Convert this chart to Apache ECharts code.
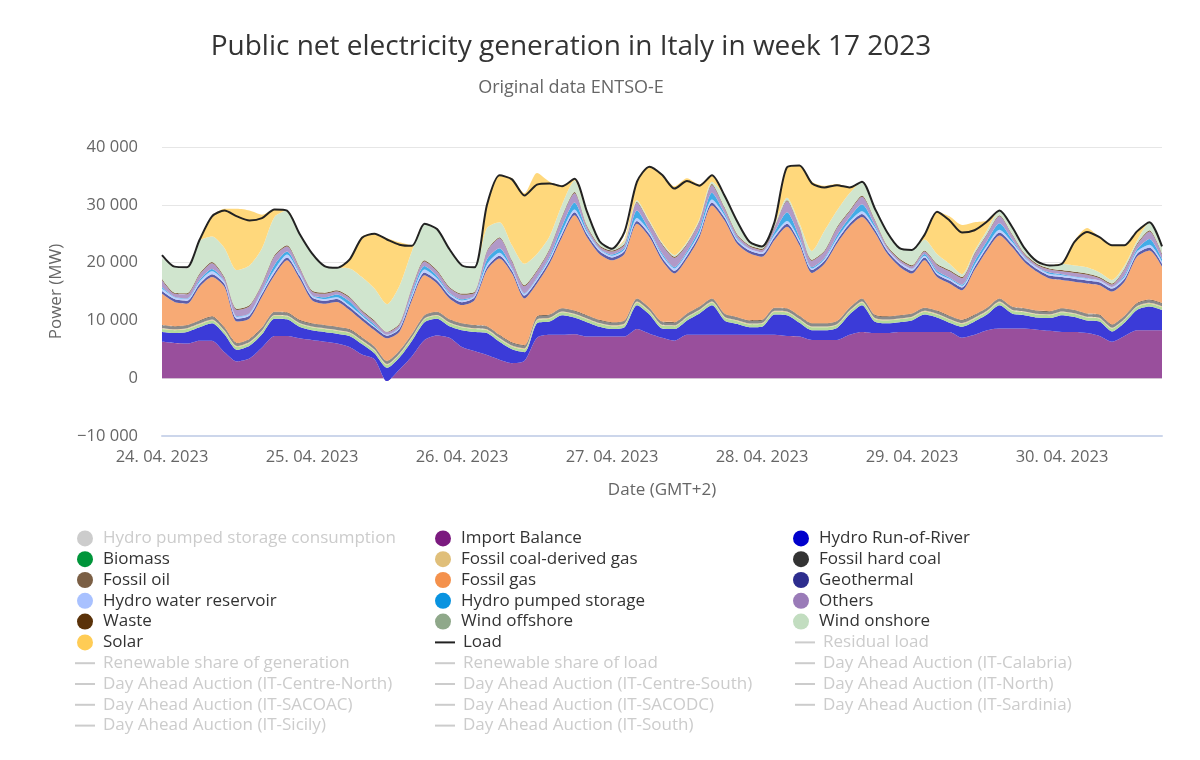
<!DOCTYPE html>
<html>
<head>
<meta charset="utf-8">
<title>Public net electricity generation in Italy in week 17 2023</title>
<script src="https://cdn.jsdelivr.net/npm/echarts@6/dist/echarts.min.js"></script>
<style>
  html, body { margin: 0; padding: 0; background: #fff; }
  #chart { width: 1200px; height: 760px; }
</style>
</head>
<body>
<div id="chart"></div>
<script>
// hours since 24.04.2023 00:00 (GMT+2), one sample every 2 hours
const hours = [0,2,4,6,8,10,12,14,16,18,20,22,24,26,28,30,32,34,36,38,40,42,44,46,48,50,52,54,56,58,60,62,64,66,68,70,72,74,76,78,80,82,84,86,88,90,92,94,96,98,100,102,104,106,108,110,112,114,116,118,120,122,124,126,128,130,132,134,136,138,140,142,144,146,148,150,152,154,156,158,160];

// generation in MW
const importBalance = [6300,6100,6000,6500,6500,4500,2900,3400,5300,7300,7300,6900, 6600,6300,6000,5400,4100,3300,-500,1500,3800,6600,7400,7000, 5400,4700,4000,3200,2600,3000,7000,7500,7500,7600, 7200,7200,7200,7200,8500,7700,7000,6500,7500,7500,7500,7500,7500,7500, 7500,7500,7300,7200,6600,6600,6600,7500,8000,7800,7800,8000, 8000,8000,8000,8000,7000,7500,8300,8600,8600,8600,8400,8200, 8000,8000,7800,7300,6300,7300,8300,8300,8300];
const runOfRiver = [1700,1700,2000,2300,3000,3100,2000,2200,2300,3000,2900,2000, 1700,1700,1700,1900,1800,1000,2300,2100,2700,3100,2900,2000, 2900,3300,3800,3100,2400,1500,2500,2300,3400,2900, 2500,1700,1300,1600,4100,3300,1600,2000,2500,3700,5100,2500,1900,1300, 1400,3500,3600,2400,1700,1700,2100,3500,4600,2000,1700,1700, 2000,3000,2500,1600,1900,2300,2700,4000,2600,2300,2100,2200, 2900,2600,2200,2500,1800,2300,3500,4100,3500];
const biomass = [500,500,500,500,500,500,500,500,500,500,500,500, 500,500,500,500,500,500,500,500,500,500,500,500, 500,500,500,500,500,500,500,500,500,500, 500,500,500,500,500,500,500,500,500,500,500,500,500,500, 500,500,500,500,500,500,500,500,500,500,500,500, 500,500,500,500,500,500,500,500,500,500,500,500, 500,500,500,500,500,500,500,500,500];
const coalGas = [150,150,150,150,150,150,150,150,150,150,150,150, 150,150,150,150,150,150,150,150,150,150,150,150, 150,150,150,150,150,150,150,150,150,150, 150,150,150,150,150,150,150,150,150,150,150,150,150,150, 150,150,150,150,150,150,150,150,150,150,150,150, 150,150,150,150,150,150,150,150,150,150,150,150, 150,150,150,150,150,150,150,150,150];
const hardCoal = [450,450,450,450,450,450,450,450,450,450,450,450, 450,450,450,450,450,450,450,450,450,450,450,450, 450,450,450,450,450,450,450,450,450,450, 450,450,450,450,450,450,450,450,450,450,450,450,450,450, 450,450,450,450,450,450,450,450,450,450,450,450, 450,450,450,450,450,450,450,450,450,450,450,450, 450,450,450,450,450,450,450,450,450];
const fossilOil = [100,100,100,100,100,100,100,100,100,100,100,100, 100,100,100,100,100,100,100,100,100,100,100,100, 100,100,100,100,100,100,100,100,100,100, 100,100,100,100,100,100,100,100,100,100,100,100,100,100, 100,100,100,100,100,100,100,100,100,100,100,100, 100,100,100,100,100,100,100,100,100,100,100,100, 100,100,100,100,100,100,100,100,100];
const fossilGas = [5400,4200,3700,5800,6800,7000,3700,3550,5300,6300,9000,7150, 4000,3700,4300,3300,2900,2800,3900,3250,5800,6900,4900,3600, 3150,4300,9700,13200,11900,8100,5700,8800,12300,16500, 13500,11400,10700,11500,12900,12200,10600,8400,9500,12000,16100,16100,12700,11600, 10900,11700,14100,12200,8700,10300,13400,14000,14100,14300,10900,8400, 6900,8200,5800,5600,5100,7700,9900,10900,10300,8000,6700,5650, 4900,4900,5200,5100,5700,5900,8000,8500,6300];
const geothermal = [500,500,500,500,500,500,500,500,500,500,500,500, 500,500,500,500,500,500,450,500,500,500,500,500, 500,500,500,500,500,500,500,500,500,500, 500,500,500,500,500,500,500,500,500,500,500,500,500,500, 500,500,500,500,500,500,500,500,500,500,500,500, 500,500,500,500,500,500,500,500,500,500,500,500, 500,500,500,500,500,500,500,500,500];
const waterReservoir = [400,300,300,400,500,300,300,300,400,500,500,400, 300,300,300,300,300,200,150,200,400,500,400,300, 300,200,500,500,300,300,300,400,500,500, 400,300,300,300,500,400,400,400,400,400,500,400,300,300, 300,400,500,400,300,300,400,400,500,400,300,300, 300,300,300,300,300,400,400,500,400,300,300,300, 300,300,300,300,300,300,400,500,400];
const pumpedStorage = [300,100,100,300,400,100,100,100,200,800,500,200, 100,300,500,700,300,300,0,100,400,600,400,200, 200,100,900,800,200,100,200,300,900,1200, 300,100,200,300,1300,300,300,200,300,600,1200,400,200,0, 0,500,1500,500,200,200,500,700,1200,400,0,0, 50,300,300,200,200,600,700,1100,400,100,0,250, 200,100,100,0,0,300,400,1000,400];
const others = [1200,500,700,900,1000,600,1100,1200,1000,1500,900,750, 600,600,500,600,500,500,450,450,800,800,800,800, 800,450,1300,1700,1100,1200,1100,1200,1500,1600, 600,400,500,500,1300,1200,1500,1600,1200,1200,1300,800,500,400, 400,700,1900,1600,1100,1100,1300,1000,1300,800,400,400, 400,400,1000,1100,1100,1200,1100,1200,800,400,400,500, 500,600,600,400,400,1000,800,1300,800];
const waste = [200,200,200,200,200,200,200,200,200,200,200,200, 200,200,200,200,200,200,100,200,200,200,200,200, 200,200,200,200,200,200,200,200,200,200, 200,200,200,200,200,200,200,200,200,200,200,200,200,200, 200,200,200,200,200,200,200,200,200,200,200,200, 200,200,200,200,200,200,200,200,200,200,200,200, 200,200,200,200,200,200,200,200,200];
const windOffshore = [0,0,0,0,0,0,0,0,0,0,0,0, 0,0,0,0,0,0,0,0,0,0,0,0, 0,0,0,0,0,0,0,0,0,0, 0,0,0,0,0,0,0,0,0,0,0,0,0,0, 0,0,0,0,0,0,0,0,0,0,0,0, 0,0,0,0,0,0,0,0,0,0,0,0, 0,0,0,0,0,0,0,0,0];
const windOnshore = [3600,4400,4300,5600,4400,5000,6700,6850,6100,6600,6000,5700, 6400,4600,3900,4900,5700,5500,4750,6500,6200,6300,7100,6500, 4840,4250,3900,2600,2600,3700,2800,2100,2000,2000, 2100,700,300,500,300,300,200,300,300,300,400,2000,2200,600, 400,400,400,600,1500,3400,2800,3000,2400,1900,2300,1800, 2650,1900,1700,1100,500,400,600,800,1200,900,400,500, 1100,1100,1100,800,600,500,500,1400,1200];
const solar = [0,0,0,200,3500,6800,10600,9500,5800,1300,0,0, 0,0,0,1500,7000,9500,11400,7500,1000,0,0,0, 0,0,4000,8100,11600,12200,14000,9500,3300,300, 300,0,0,300,3200,9300,11700,11900,11000,5900,1100,0,0,0, 0,400,5300,10000,12000,7800,4600,1000,0,0,0,0, 0,800,7300,8200,8500,5000,1700,0,0,0,0,0, 0,4300,6800,6100,6000,3500,1600,0,0];
const load = [21300,19300,19200,23900,28000,29000,28000,27300,27700,29200,29000,25000, 21600,19400,19100,20500,24300,25000,24000,23100,22900,26700,25800,22300, 19500,19200,30000,35100,34400,31600,33500,33700,33200,34500, 28800,23700,22400,25300,34000,36600,35200,32800,34100,33300,35100,31600,27200,23600, 22800,27000,36500,36800,33700,33000,33400,33000,34000,29500,25300,22500, 22200,24800,28800,27300,25200,25600,27100,29000,26200,22500,20200,19500, 19800,23600,25300,24400,23000,23000,25400,27000,22800];

const dayLabels = ['24. 04. 2023', '25. 04. 2023', '26. 04. 2023', '27. 04. 2023', '28. 04. 2023', '29. 04. 2023', '30. 04. 2023'];

// legend entries that are switched off in the original
const hiddenLines = ['Residual load', 'Renewable share of generation', 'Renewable share of load',
    'Day Ahead Auction (IT-Calabria)', 'Day Ahead Auction (IT-Centre-North)', 'Day Ahead Auction (IT-Centre-South)',
    'Day Ahead Auction (IT-North)', 'Day Ahead Auction (IT-SACOAC)', 'Day Ahead Auction (IT-SACODC)',
    'Day Ahead Auction (IT-Sardinia)', 'Day Ahead Auction (IT-Sicily)', 'Day Ahead Auction (IT-South)'];

const FONT = '"Open Sans", "Noto Sans", sans-serif';
const LINE_ICON = 'path://M0,0H20V2H0Z';

// same colour as seen through the 77% fill opacity of the original
function fillColor(hex) {
    const n = parseInt(hex.slice(1), 16);
    const mix = c => Math.round(c * 0.77 + 255 * 0.23);
    return 'rgb(' + mix(n >> 16) + ',' + mix((n >> 8) & 255) + ',' + mix(n & 255) + ')';
}

function areaSeries(name, color, values, fill) {
    return {
        name: name,
        type: 'line',
        stack: 'generation',
        stackStrategy: 'all',
        color: color,
        data: values,
        symbol: 'none',
        smooth: 0.25,
        lineStyle: { width: 0 },
        areaStyle: { color: fill || fillColor(color), opacity: 1 },
        emphasis: { disabled: true },
        silent: true
    };
}

function formatThousands(v) {
    const s = String(Math.abs(v)).replace(/\B(?=(\d{3})+(?!\d))/g, ' ');
    return (v < 0 ? '\u2212' : '') + s;
}

const chart = echarts.init(document.getElementById('chart'));

const series = [
    // switched off in the original, kept for the legend only
    { name: 'Hydro pumped storage consumption', type: 'line', color: '#bbbbbb', data: [], symbol: 'none',
      lineStyle: { width: 0 }, areaStyle: {} },
    areaSeries('Import Balance', '#7b1a7f', importBalance),
    areaSeries('Hydro Run-of-River', '#0000cc', runOfRiver),
    areaSeries('Biomass', '#00953a', biomass, '#b4d99c'),
    areaSeries('Fossil coal-derived gas', '#e0bf7a', coalGas),
    areaSeries('Fossil hard coal', '#333333', hardCoal, '#8a8a8a'),
    areaSeries('Fossil oil', '#7b5f45', fossilOil, '#5a4a3a'),
    areaSeries('Fossil gas', '#f4914c', fossilGas),
    areaSeries('Geothermal', '#2d2d8e', geothermal),
    areaSeries('Hydro water reservoir', '#a8c1ff', waterReservoir),
    areaSeries('Hydro pumped storage', '#0993e0', pumpedStorage),
    areaSeries('Others', '#9a7bb8', others),
    areaSeries('Waste', '#5a3209', waste),
    areaSeries('Wind offshore', '#8fa88a', windOffshore),
    areaSeries('Wind onshore', '#c2ddc0', windOnshore),
    areaSeries('Solar', '#ffcc55', solar),
    {
        name: 'Load',
        type: 'line',
        color: '#222222',
        data: load,
        symbol: 'none',
        smooth: 0.25,
        lineStyle: { width: 2, color: '#222222' },
        emphasis: { disabled: true },
        silent: true,
        z: 5
    }
];
hiddenLines.forEach(name => {
    series.push({ name: name, type: 'line', color: '#999999', data: [], symbol: 'none' });
});

const legendData = series.map(s => {
    const isLine = !s.areaStyle;
    return {
        name: s.name,
        icon: isLine ? LINE_ICON : 'circle',
        itemStyle: { borderWidth: 0 }
    };
});
const selected = { 'Hydro pumped storage consumption': false };
hiddenLines.forEach(name => { selected[name] = false; });

chart.setOption({
    animation: false,
    textStyle: { fontFamily: FONT },
    title: {
        text: 'Public net electricity generation in Italy in week 17 2023',
        subtext: 'Original data ENTSO-E',
        left: 566,
        top: 28,
        textAlign: 'center',
        itemGap: 18,
        textStyle: { fontFamily: FONT, fontSize: 28, fontWeight: 'normal', color: '#333333' },
        subtextStyle: { fontFamily: FONT, fontSize: 18, color: '#666666' }
    },
    grid: { left: 162, right: 38, top: 147, bottom: 324 },
    xAxis: {
        type: 'category',
        data: hours,
        boundaryGap: false,
        name: 'Date (GMT+2)',
        nameLocation: 'middle',
        nameGap: 46,
        nameTextStyle: { fontFamily: FONT, fontSize: 17, color: '#666666' },
        axisLine: { onZero: false, lineStyle: { color: '#ccd6eb', width: 2 } },
        axisTick: { show: false },
        splitLine: { show: false },
        axisLabel: {
            margin: 13,
            fontSize: 16.5,
            color: '#666666',
            interval: (index, value) => Number(value) % 24 === 0,
            formatter: value => dayLabels[Number(value) / 24]
        }
    },
    yAxis: {
        type: 'value',
        min: -10000,
        max: 40000,
        interval: 10000,
        name: 'Power (MW)',
        nameLocation: 'middle',
        nameGap: 97,
        nameTextStyle: { fontFamily: FONT, fontSize: 17, color: '#666666' },
        axisLine: { show: false },
        axisTick: { show: false },
        splitLine: { lineStyle: { color: '#e6e6e6' } },
        axisLabel: { margin: 24, fontSize: 16.5, color: '#666666', formatter: formatThousands }
    },
    legend: {
        left: 75,
        top: 528,
        width: 1090,
        padding: 0,
        itemGap: 0,
        itemWidth: 20,
        itemHeight: 16,
        symbolKeepAspect: true,
        inactiveColor: '#cccccc',
        inactiveBorderWidth: 0,
        textStyle: { fontFamily: FONT, fontSize: 17, color: '#333333', width: 332, lineHeight: 20.8, padding: [0, 0, 0, 3] },
        data: legendData,
        selected: selected
    },
    series: series
});
</script>
</body>
</html>
